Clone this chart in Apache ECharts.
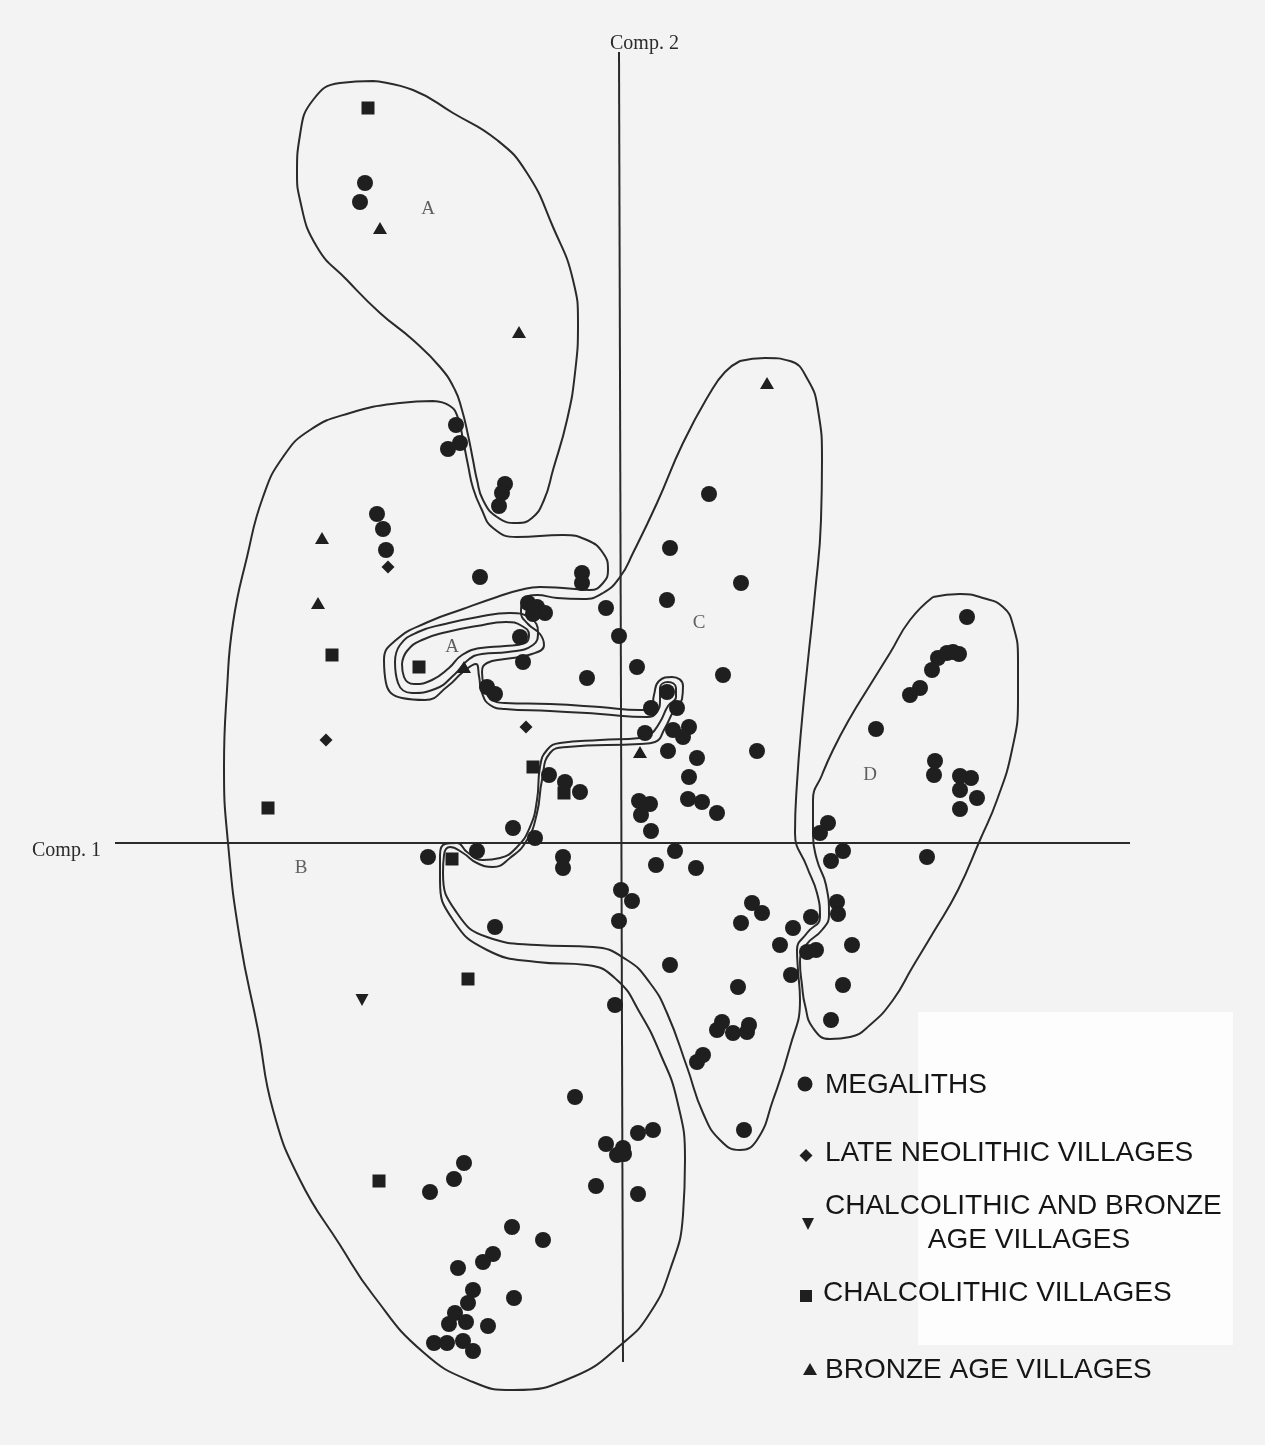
<!DOCTYPE html>
<html>
<head>
<meta charset="utf-8">
<title>Comp. 1 / Comp. 2</title>
<script src="https://cdn.jsdelivr.net/npm/echarts@6/dist/echarts.min.js"></script>
<style>
  html, body { margin: 0; padding: 0; background: #f3f3f3; }
  #chart { width: 1265px; height: 1445px; }
</style>
</head>
<body>
<div id="chart"></div>
<script>
// Component scores of the sites (Comp. 1, Comp. 2)
const megaliths = [
  // A, upper lobe
  [-2.55, 6.60], [-2.60, 6.41],
  [-1.64, 4.18], [-1.60, 4.00], [-1.72, 3.94],
  [-1.15, 3.59], [-1.18, 3.50], [-1.21, 3.37],
  // B, upper part
  [-2.43, 3.29], [-2.37, 3.14], [-2.34, 2.93],
  [-1.40, 2.66], [-0.38, 2.70], [-0.38, 2.60],
  [-0.92, 2.40], [-0.83, 2.36], [-0.75, 2.30], [-0.87, 2.29],
  [-0.14, 2.35], [-0.01, 2.07], [-1.00, 2.06], [-0.97, 1.81],
  [-0.33, 1.65], [0.17, 1.76], [-1.33, 1.56], [-1.25, 1.49],
  // C
  [0.89, 3.49], [0.50, 2.95], [1.21, 2.60], [0.47, 2.43], [1.03, 1.68],
  [0.47, 1.51], [0.31, 1.35], [0.57, 1.35], [0.25, 1.10], [0.53, 1.13], [0.69, 1.16], [0.63, 1.06],
  [0.48, 0.92], [1.37, 0.92], [0.77, 0.85], [0.69, 0.66],
  [-0.71, 0.68], [-0.55, 0.61], [-0.40, 0.51],
  [0.19, 0.42], [0.30, 0.39], [0.21, 0.28], [0.68, 0.44], [0.82, 0.41], [0.97, 0.30], [0.31, 0.12],
  [-1.07, 0.15], [-0.85, 0.05], [-1.92, -0.14], [-1.43, -0.08], [-0.57, -0.14], [-0.57, -0.25],
  [0.55, -0.08], [0.36, -0.22], [0.76, -0.25],
  [0.01, -0.47], [0.12, -0.58], [-0.01, -0.78], [-1.25, -0.84],
  [1.32, -0.60], [1.42, -0.70], [1.21, -0.80], [1.91, -0.74], [1.73, -0.85], [1.60, -1.02], [1.87, -1.09], [1.96, -1.07],
  [0.50, -1.22], [1.71, -1.32], [1.18, -1.44], [-0.05, -1.62],
  [1.02, -1.79], [0.97, -1.87], [1.13, -1.90], [1.29, -1.82], [1.27, -1.89],
  [0.83, -2.12], [0.77, -2.19], [1.24, -2.87],
  // D
  [3.47, 2.26], [3.18, 1.85], [3.27, 1.90], [3.33, 1.91], [3.39, 1.89], [3.12, 1.73], [3.00, 1.55], [2.90, 1.48],
  [2.56, 1.14], [3.15, 0.82], [3.14, 0.68], [3.40, 0.67], [3.51, 0.65], [3.40, 0.53], [3.57, 0.45], [3.40, 0.34],
  [2.08, 0.20], [2.00, 0.10], [2.23, -0.08], [2.11, -0.18], [3.07, -0.14],
  [2.17, -0.59], [2.18, -0.71], [2.32, -1.02], [2.23, -1.42], [2.11, -1.77],
  // B, lower part
  [-0.45, -2.54], [0.18, -2.90], [0.33, -2.87], [-0.14, -3.01], [0.03, -3.05], [-0.03, -3.12], [0.04, -3.11],
  [-1.56, -3.20], [-1.66, -3.36], [-1.90, -3.49], [-0.24, -3.43], [0.18, -3.51],
  [-1.08, -3.84], [-0.77, -3.97], [-1.27, -4.11], [-1.37, -4.19], [-1.62, -4.25],
  [-1.47, -4.47], [-1.06, -4.55], [-1.52, -4.60], [-1.65, -4.70], [-1.54, -4.79], [-1.71, -4.81], [-1.32, -4.83],
  [-1.86, -5.00], [-1.73, -5.00], [-1.57, -4.98], [-1.47, -5.08]
];

const lateNeolithic = [[-2.32, 2.76], [-0.94, 1.16], [-2.94, 1.03]];

const chalcolithicBronze = [[-2.58, -1.57]];

const chalcolithic = [
  [-2.52, 7.35], [-2.88, 1.88], [-2.01, 1.76], [-3.52, 0.35], [-0.87, 0.76],
  [-0.56, 0.50], [-1.68, -0.16], [-1.52, -1.36], [-2.41, -3.38]
];

const bronzeAge = [
  [-2.40, 6.15], [-1.01, 5.11], [1.47, 4.60], [-2.98, 3.05],
  [-3.02, 2.40], [-1.56, 1.76], [0.20, 0.91]
];

// Group outlines, in component-score space
const outlineA1 = [
  [-2.47, 7.62], [-2.07, 7.53], [-1.67, 7.30], [-1.23, 7.03], [-0.93, 6.70], [-0.67, 6.16],
  [-0.47, 5.63], [-0.42, 5.20], [-0.45, 4.70], [-0.53, 4.23], [-0.67, 3.73], [-0.76, 3.43],
  [-0.88, 3.25], [-1.03, 3.20], [-1.23, 3.26], [-1.37, 3.43], [-1.43, 3.63], [-1.47, 3.83],
  [-1.52, 4.08], [-1.58, 4.33], [-1.65, 4.53], [-1.80, 4.76], [-2.07, 5.03], [-2.40, 5.30],
  [-2.73, 5.63], [-3.03, 5.96], [-3.20, 6.43], [-3.23, 6.70], [-3.20, 7.08], [-3.07, 7.43],
  [-2.80, 7.60], [-2.47, 7.62]
];

const outlineA2 = [
  [-2.18, 1.79], [-2.13, 1.92], [-1.98, 2.03], [-1.73, 2.11], [-1.43, 2.17], [-1.14, 2.21],
  [-0.98, 2.17], [-0.91, 2.08], [-0.95, 2.00], [-1.15, 1.97], [-1.39, 1.95], [-1.58, 1.88],
  [-1.71, 1.75], [-1.88, 1.63], [-2.06, 1.59], [-2.16, 1.66], [-2.18, 1.79]
];

const outlineA2outer = [
  [-2.25, 1.81], [-2.20, 1.98], [-2.02, 2.11], [-1.75, 2.19], [-1.42, 2.26], [-1.10, 2.30],
  [-0.90, 2.25], [-0.82, 2.11], [-0.87, 1.98], [-1.12, 1.91], [-1.38, 1.89], [-1.52, 1.83],
  [-1.65, 1.69], [-1.85, 1.54], [-2.08, 1.50], [-2.22, 1.60], [-2.25, 1.81]
];

const outlineB = [
  [-1.87, 4.42], [-1.70, 4.37], [-1.62, 4.25], [-1.57, 4.03], [-1.52, 3.78], [-1.47, 3.55],
  [-1.39, 3.35], [-1.27, 3.15], [-1.03, 3.06], [-0.57, 3.08], [-0.33, 3.03], [-0.17, 2.90],
  [-0.12, 2.73], [-0.17, 2.60], [-0.30, 2.53], [-0.57, 2.55], [-0.80, 2.56], [-1.00, 2.53],
  [-1.23, 2.46], [-1.57, 2.34], [-1.92, 2.21], [-2.24, 2.03], [-2.36, 1.83], [-2.34, 1.60],
  [-2.18, 1.45], [-1.95, 1.43], [-1.72, 1.57], [-1.57, 1.71], [-1.44, 1.79], [-1.41, 1.67],
  [-1.38, 1.50], [-1.30, 1.38], [-1.15, 1.34], [-0.70, 1.32], [-0.20, 1.29], [0.27, 1.26],
  [0.37, 1.31], [0.40, 1.43], [0.40, 1.55], [0.48, 1.61], [0.56, 1.55], [0.56, 1.46],
  [0.48, 1.37], [0.40, 1.21], [0.30, 1.08], [0.20, 1.05], [-0.20, 1.03], [-0.60, 1.00],
  [-0.73, 0.93], [-0.80, 0.76], [-0.83, 0.43], [-0.90, 0.16], [-1.03, -0.04], [-1.20, -0.15],
  [-1.37, -0.17], [-1.53, -0.09], [-1.63, 0.00], [-1.75, -0.01], [-1.80, -0.12], [-1.80, -0.37],
  [-1.67, -0.77], [-1.33, -1.07], [-0.83, -1.19], [-0.33, -1.22], [-0.03, -1.37], [0.20, -1.70],
  [0.40, -2.10], [0.57, -2.57], [0.65, -3.17], [0.63, -3.72], [0.50, -4.27], [0.30, -4.70],
  [0.03, -5.00], [-0.47, -5.34], [-1.07, -5.47], [-1.47, -5.39], [-1.97, -5.09], [-2.47, -4.52],
  [-2.80, -4.02], [-3.20, -3.37], [-3.47, -2.67], [-3.62, -1.87], [-3.80, -0.97], [-3.92, 0.00],
  [-3.96, 0.76], [-3.93, 1.53], [-3.87, 2.20], [-3.73, 2.86], [-3.57, 3.46], [-3.37, 3.86],
  [-3.10, 4.13], [-2.70, 4.30], [-2.20, 4.40], [-1.87, 4.42]
];

const outlineC = [
  [1.20, 4.82], [1.45, 4.85], [1.70, 4.82], [1.88, 4.63], [1.98, 4.33], [2.02, 3.83],
  [2.01, 3.23], [1.95, 2.50], [1.88, 1.83], [1.82, 1.23], [1.77, 0.60], [1.75, 0.10],
  [1.87, -0.24], [1.97, -0.50], [2.00, -0.74], [1.87, -0.90], [1.77, -1.07], [1.78, -1.27],
  [1.80, -1.57], [1.70, -2.04], [1.53, -2.57], [1.37, -2.97], [1.20, -3.07], [1.00, -2.97],
  [0.83, -2.70], [0.67, -2.24], [0.47, -1.70], [0.30, -1.40], [0.07, -1.17], [-0.27, -1.04],
  [-0.83, -1.02], [-1.33, -0.94], [-1.63, -0.70], [-1.77, -0.30], [-1.76, -0.12], [-1.70, -0.04],
  [-1.57, -0.10], [-1.43, -0.20], [-1.27, -0.24], [-1.10, -0.15], [-0.93, 0.03], [-0.83, 0.30],
  [-0.78, 0.63], [-0.70, 0.90], [-0.53, 0.96], [0.20, 0.99], [0.35, 1.01], [0.45, 1.15],
  [0.53, 1.31], [0.62, 1.44], [0.63, 1.57], [0.52, 1.66], [0.39, 1.62], [0.34, 1.48],
  [0.32, 1.37], [0.20, 1.33], [-0.20, 1.36], [-0.70, 1.39], [-1.15, 1.40], [-1.30, 1.45],
  [-1.36, 1.57], [-1.38, 1.71], [-1.33, 1.80], [-1.15, 1.84], [-0.88, 1.89], [-0.76, 1.98],
  [-0.80, 2.09], [-0.92, 2.19], [-0.99, 2.31], [-0.96, 2.43], [-0.83, 2.48], [-0.63, 2.45],
  [-0.37, 2.44], [-0.17, 2.50], [0.00, 2.66], [0.13, 2.90], [0.37, 3.40], [0.63, 4.00],
  [0.90, 4.50], [1.05, 4.71], [1.20, 4.82]
];

const outlineD = [
  [3.13, 2.46], [3.40, 2.49], [3.63, 2.45], [3.83, 2.36], [3.93, 2.18], [3.98, 1.83],
  [3.98, 1.43], [3.92, 0.93], [3.77, 0.43], [3.60, 0.03], [3.38, -0.47], [3.13, -0.90],
  [2.92, -1.25], [2.73, -1.57], [2.50, -1.82], [2.30, -1.94], [2.10, -1.96], [1.93, -1.85],
  [1.85, -1.62], [1.82, -1.42], [1.80, -1.19], [1.86, -1.02], [2.02, -0.87], [2.09, -0.72],
  [2.06, -0.42], [1.97, -0.17], [1.93, 0.08], [1.93, 0.43], [2.02, 0.68], [2.13, 0.93],
  [2.30, 1.25], [2.47, 1.53], [2.70, 1.90], [2.90, 2.23], [3.13, 2.46]
];

// Group letters placed inside their outlines
const groupLabels = [
  { name: 'A', value: [-1.92, 6.34] },
  { name: 'A', value: [-1.68, 1.96] },
  { name: 'B', value: [-3.19, -0.25] },
  { name: 'C', value: [0.79, 2.20] },
  { name: 'D', value: [2.50, 0.68] }
];

// Extent of the two component axes
const comp1Line = [[-5.05, 0], [5.10, 0]];
const comp2Line = [[-0.01, 7.91], [0.03, -5.19]];

const INK = '#1f1f1f';
const LINE = '#2a2a2a';

function outline(name, pts) {
  return {
    type: 'line', name: name, data: pts,
    symbol: 'none', showSymbol: false, smooth: 0.5,
    lineStyle: { color: LINE, width: 2 },
    silent: true, z: 1, animation: false
  };
}

function axisLine(name, pts) {
  return {
    type: 'line', name: name, data: pts,
    symbol: 'none', showSymbol: false,
    lineStyle: { color: '#2a2a2a', width: 2 },
    silent: true, z: 1, animation: false
  };
}

function sites(name, pts, symbol, size, rotate) {
  return {
    type: 'scatter', name: name, data: pts,
    symbol: symbol, symbolSize: size, symbolRotate: rotate || 0,
    itemStyle: { color: INK, opacity: 1 },
    silent: true, z: 5, animation: false
  };
}

const chart = echarts.init(document.getElementById('chart'), null, { renderer: 'canvas' });

const sans = 'Liberation Sans, Arial, sans-serif';
const serif = 'Liberation Serif, Times New Roman, serif';

function legendText(text, x, y, align) {
  return {
    type: 'text', z: 100, x: x, y: y,
    style: {
      text: text, fill: '#151515', font: '28px ' + sans,
      textAlign: align || 'left', textVerticalAlign: 'middle'
    }
  };
}

chart.setOption({
  backgroundColor: '#f3f3f3',
  animation: false,
  grid: { left: 0, right: 0, top: 0, bottom: 0, containLabel: false },
  xAxis: { type: 'value', min: -6.20, max: 6.45, show: false },
  yAxis: { type: 'value', min: -6.02, max: 8.43, show: false },
  series: [
    axisLine('Comp. 1', comp1Line),
    axisLine('Comp. 2', comp2Line),
    outline('A', outlineA1),
    outline('A', outlineA2),
    outline('A', outlineA2outer),
    outline('B', outlineB),
    outline('C', outlineC),
    outline('D', outlineD),
    sites('MEGALITHS', megaliths, 'circle', 16),
    sites('LATE NEOLITHIC VILLAGES', lateNeolithic, 'diamond', [13, 13]),
    sites('CHALCOLITHIC AND BRONZE AGE VILLAGES', chalcolithicBronze, 'triangle', [13, 12], 180),
    sites('CHALCOLITHIC VILLAGES', chalcolithic, 'rect', 13),
    sites('BRONZE AGE VILLAGES', bronzeAge, 'triangle', [14, 12]),
    {
      type: 'scatter', name: 'groups', data: groupLabels,
      symbolSize: 1, itemStyle: { color: 'rgba(0,0,0,0)' },
      label: {
        show: true, position: 'inside', formatter: '{b}',
        fontFamily: serif, fontSize: 19, color: '#3a3a3a'
      },
      silent: true, z: 4, animation: false
    }
  ],
  graphic: [
    // pale panel behind the key
    { type: 'rect', z: 0, shape: { x: 918, y: 1012, width: 315, height: 333 },
      style: { fill: '#fdfdfd' } },
    { type: 'text', z: 100, x: 610, y: 44,
      style: { text: 'Comp. 2', fill: '#2a2a2a', font: '20px ' + serif, textVerticalAlign: 'middle' } },
    { type: 'text', z: 100, x: 32, y: 851,
      style: { text: 'Comp. 1', fill: '#2a2a2a', font: '20px ' + serif, textVerticalAlign: 'middle' } },

    // key
    { type: 'circle', z: 100, shape: { cx: 805, cy: 1084, r: 7.5 }, style: { fill: INK } },
    legendText('MEGALITHS', 825, 1085),
    { type: 'polygon', z: 100, shape: { points: [[806, 1149], [812.5, 1155.5], [806, 1162], [799.5, 1155.5]] }, style: { fill: INK } },
    legendText('LATE NEOLITHIC VILLAGES', 825, 1153),
    { type: 'polygon', z: 100, shape: { points: [[802, 1218], [814, 1218], [808, 1230]] }, style: { fill: INK } },
    legendText('CHALCOLITHIC AND BRONZE', 825, 1206),
    legendText('AGE VILLAGES', 1029, 1240, 'center'),
    { type: 'rect', z: 100, shape: { x: 800, y: 1290, width: 12, height: 12 }, style: { fill: INK } },
    legendText('CHALCOLITHIC VILLAGES', 823, 1293),
    { type: 'polygon', z: 100, shape: { points: [[803, 1375], [817, 1375], [810, 1363]] }, style: { fill: INK } },
    legendText('BRONZE AGE VILLAGES', 825, 1370)
  ]
});
</script>
</body>
</html>
